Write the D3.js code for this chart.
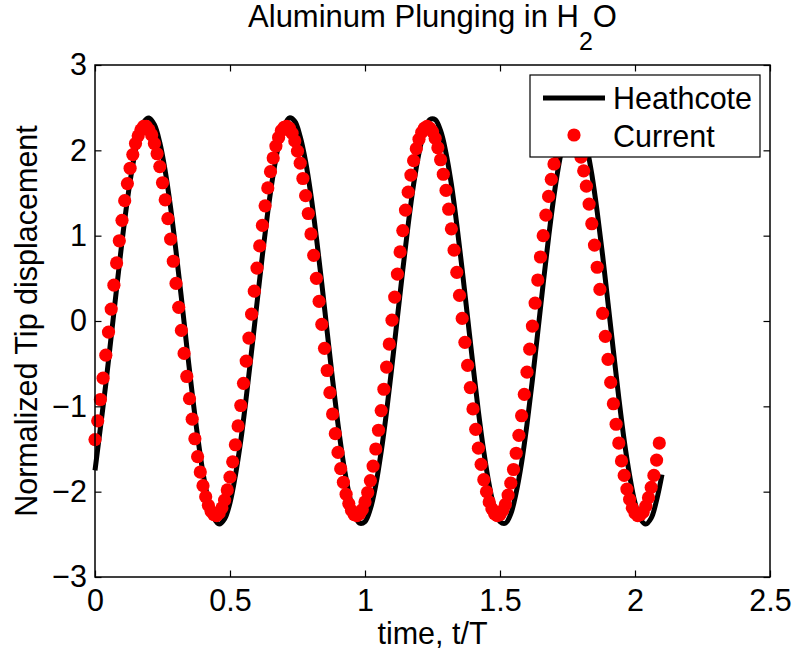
<!DOCTYPE html>
<html>
<head>
<meta charset="utf-8">
<script src="https://cdn.jsdelivr.net/npm/d3@7"></script>
<style>
  html, body { margin: 0; padding: 0; background: #fff; }
  svg { display: block; }
</style>
</head>
<body>
<svg id="chart" width="794" height="652"></svg>
<script>
// Heathcote reference solution, sampled every 0.02 t/T
const heathcoteDt = 0.02;
const heathcote = [
  -1.75, -1.25, -0.74, -0.18, 0.38, 0.93, 1.42, 1.83, 2.14, 2.33,
  2.38, 2.30, 2.09, 1.76, 1.33, 0.82, 0.27, -0.30, -0.85, -1.35,
  -1.78, -2.10, -2.31, -2.38, -2.32, -2.13, -1.81, -1.40, -0.90, -0.35,
  0.21, 0.77, 1.28, 1.72, 2.06, 2.28, 2.38, 2.34, 2.16, 1.87,
  1.47, 0.98, 0.44, -0.13, -0.69, -1.21, -1.66, -2.01, -2.26, -2.37,
  -2.35, -2.20, -1.92, -1.53, -1.06, -0.52, 0.04, 0.60, 1.13, 1.60,
  1.97, 2.23, 2.36, 2.36, 2.23, 1.97, 1.60, 1.13, 0.60, 0.04,
  -0.52, -1.06, -1.53, -1.92, -2.20, -2.35, -2.37, -2.26, -2.01, -1.66,
  -1.21, -0.69, -0.13, 0.44, 0.98, 1.47, 1.87, 2.16, 2.34, 2.38,
  2.28, 2.06, 1.72, 1.28, 0.77, 0.21, -0.35, -0.90, -1.40, -1.81,
  -2.13, -2.32, -2.38, -2.31, -2.10, -1.80
];

// Current computation, one output every 0.01 t/T
const currentDt = 0.01;
const current = [
  -1.39, -1.17, -0.92, -0.67, -0.40, -0.13, 0.14, 0.42, 0.68, 0.94,
  1.18, 1.41, 1.61, 1.79, 1.95, 2.08, 2.17, 2.24, 2.28, 2.28,
  2.24, 2.18, 2.08, 1.96, 1.81, 1.62, 1.42, 1.20, 0.96, 0.70,
  0.44, 0.16, -0.11, -0.38, -0.65, -0.91, -1.15, -1.38, -1.59, -1.77,
  -1.93, -2.06, -2.16, -2.23, -2.27, -2.28, -2.25, -2.19, -2.10, -1.98,
  -1.83, -1.65, -1.45, -1.23, -0.99, -0.73, -0.47, -0.20, 0.08, 0.35,
  0.62, 0.88, 1.12, 1.35, 1.56, 1.75, 1.91, 2.05, 2.15, 2.23,
  2.27, 2.28, 2.26, 2.20, 2.11, 1.99, 1.85, 1.67, 1.47, 1.26,
  1.02, 0.77, 0.50, 0.23, -0.04, -0.32, -0.58, -0.84, -1.09, -1.32,
  -1.54, -1.73, -1.89, -2.03, -2.14, -2.22, -2.27, -2.28, -2.26, -2.21,
  -2.12, -2.01, -1.87, -1.70, -1.50, -1.28, -1.05, -0.80, -0.54, -0.27,
  0.01, 0.28, 0.55, 0.81, 1.06, 1.30, 1.51, 1.71, 1.88, 2.02,
  2.13, 2.21, 2.26, 2.28, 2.26, 2.22, 2.14, 2.03, 1.89, 1.72,
  1.53, 1.31, 1.08, 0.83, 0.57, 0.30, 0.03, -0.25, -0.52, -0.78,
  -1.03, -1.27, -1.49, -1.68, -1.86, -2.00, -2.12, -2.20, -2.26, -2.28,
  -2.27, -2.22, -2.15, -2.04, -1.90, -1.74, -1.55, -1.34, -1.11, -0.86,
  -0.60, -0.33, -0.06, 0.21, 0.48, 0.75, 1.00, 1.24, 1.46, 1.66,
  1.84, 1.98, 2.10, 2.19, 2.25, 2.28, 2.27, 2.23, 2.16, 2.06,
  1.92, 1.76, 1.58, 1.37, 1.14, 0.89, 0.63, 0.37, 0.09, -0.18,
  -0.45, -0.72, -0.97, -1.21, -1.43, -1.64, -1.81, -1.97, -2.09, -2.19,
  -2.25, -2.28, -2.27, -2.24, -2.17, -2.07, -1.95, -1.81, -1.63, -1.43
];

const xTicks = [0, 0.5, 1, 1.5, 2, 2.5];
const xTickLabels = ["0", "0.5", "1", "1.5", "2", "2.5"];
const yTicks = [-3, -2, -1, 0, 1, 2, 3];
const yTickLabels = ["\u22123", "\u22122", "\u22121", "0", "1", "2", "3"];
const seriesNames = ["Heathcote", "Current"];
const xLabel = "time, t/T";
const yLabel = "Normalized Tip displacement";

const FONT = "'Liberation Sans', Arial, Helvetica, sans-serif";
const FS = 30.5;
const box = { left: 95, right: 770, top: 65, bottom: 577 };

const svg = d3.select("#chart")
  .attr("font-family", FONT);

svg.append("rect").attr("width", 794).attr("height", 652).attr("fill", "#fff");

const x = d3.scaleLinear().domain([0, 2.5]).range([box.left, box.right]);
const y = d3.scaleLinear().domain([-3, 3]).range([box.bottom, box.top]);

// Axes: inward ticks on all four sides, labels on bottom and left only
const tickLen = 6.5;
function styleAxis(g) {
  g.select(".domain").remove();
  g.selectAll(".tick line").attr("stroke", "#000").attr("stroke-width", 1.2);
  g.selectAll(".tick text").attr("fill", "#000").attr("font-size", FS).attr("font-family", FONT);
}

svg.append("g")
  .attr("transform", `translate(0,${box.bottom})`)
  .call(d3.axisBottom(x).tickValues(xTicks)
    .tickFormat((d, i) => xTickLabels[i])
    .tickSizeInner(-tickLen).tickSizeOuter(0).tickPadding(12.5))
  .call(styleAxis);

svg.append("g")
  .attr("transform", `translate(0,${box.top})`)
  .call(d3.axisTop(x).tickValues(xTicks).tickFormat("")
    .tickSizeInner(-tickLen).tickSizeOuter(0))
  .call(styleAxis);

svg.append("g")
  .attr("transform", `translate(${box.left},0)`)
  .call(d3.axisLeft(y).tickValues(yTicks)
    .tickFormat((d, i) => yTickLabels[i])
    .tickSizeInner(-tickLen).tickSizeOuter(0).tickPadding(8))
  .call(styleAxis);

svg.append("g")
  .attr("transform", `translate(${box.right},0)`)
  .call(d3.axisRight(y).tickValues(yTicks).tickFormat("")
    .tickSizeInner(-tickLen).tickSizeOuter(0))
  .call(styleAxis);

// Heathcote curve
const line = d3.line()
  .x((d, i) => x(i * heathcoteDt))
  .y(d => y(d))
  .curve(d3.curveCatmullRom.alpha(0.5));

svg.append("path")
  .datum(heathcote)
  .attr("d", line)
  .attr("fill", "none")
  .attr("stroke", "#000")
  .attr("stroke-width", 5)
  .attr("stroke-linejoin", "round");

// Current results
svg.append("g")
  .selectAll("circle")
  .data(current)
  .join("circle")
  .attr("cx", (d, i) => x(i * currentDt))
  .attr("cy", d => y(d))
  .attr("r", 6.6)
  .attr("fill", "#ff0000");

// Plot frame
svg.append("rect")
  .attr("x", box.left).attr("y", box.top)
  .attr("width", box.right - box.left).attr("height", box.bottom - box.top)
  .attr("fill", "none").attr("stroke", "#000").attr("stroke-width", 1.5);

// Title with subscript
const title = svg.append("text")
  .attr("x", (box.left + box.right) / 2)
  .attr("y", 27)
  .attr("text-anchor", "middle")
  .attr("font-size", 31)
  .attr("fill", "#000");
title.append("tspan").text("Aluminum Plunging in H");
title.append("tspan").attr("font-size", 25).attr("dy", 23).text("2");
title.append("tspan").attr("dy", -23).text("O");

// Axis labels
svg.append("text")
  .attr("x", (box.left + box.right) / 2)
  .attr("y", 644)
  .attr("text-anchor", "middle")
  .attr("font-size", FS)
  .attr("fill", "#000")
  .text(xLabel);

svg.append("text")
  .attr("transform", `translate(37,${(box.top + box.bottom) / 2}) rotate(-90)`)
  .attr("text-anchor", "middle")
  .attr("font-size", FS)
  .attr("fill", "#000")
  .text(yLabel);

// Legend
const legend = svg.append("g");
legend.append("rect")
  .attr("x", 530).attr("y", 75).attr("width", 230).attr("height", 82)
  .attr("fill", "#fff").attr("stroke", "#000").attr("stroke-width", 1.2);
legend.append("line")
  .attr("x1", 543).attr("x2", 605).attr("y1", 98).attr("y2", 98)
  .attr("stroke", "#000").attr("stroke-width", 5);
legend.append("circle")
  .attr("cx", 574).attr("cy", 135).attr("r", 6.6).attr("fill", "#ff0000");
legend.selectAll("text.lg")
  .data(seriesNames)
  .join("text")
  .attr("class", "lg")
  .attr("x", 613)
  .attr("y", (d, i) => i === 0 ? 109 : 146.5)
  .attr("font-size", FS)
  .attr("fill", "#000")
  .text(d => d);
</script>
</body>
</html>
